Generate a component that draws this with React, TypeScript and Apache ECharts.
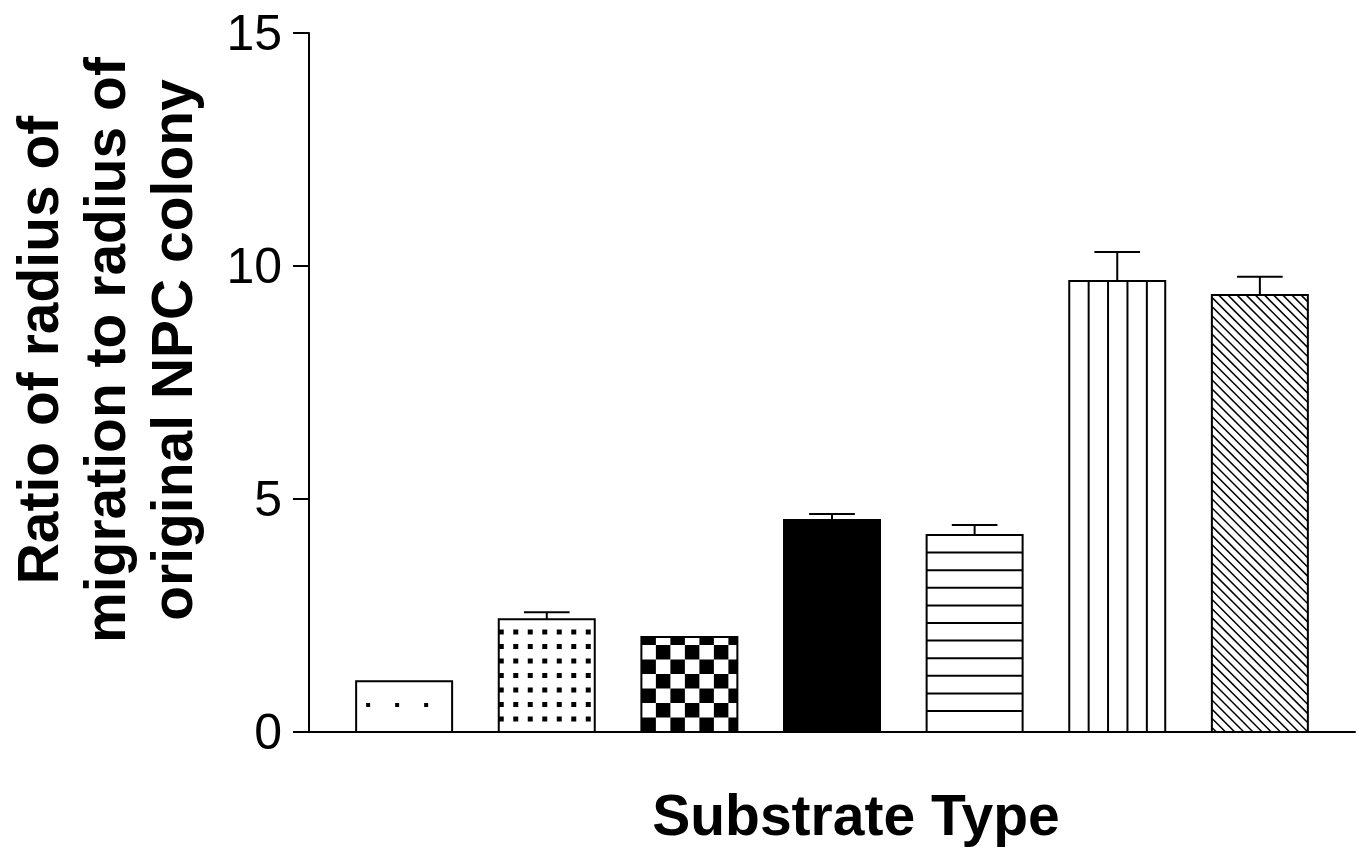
import React, { useEffect, useRef } from "react";
import * as echarts from "echarts";

// ---- data ----
const CATEGORIES = ["S1", "S2", "S3", "S4", "S5", "S6", "S7"];
const VALUES = [1.09, 2.42, 2.04, 4.55, 4.23, 9.68, 9.38];
const ERRORS = [0, 0.15, 0, 0.13, 0.21, 0.62, 0.39];
const PATTERNS = ["sparseDots", "dots", "checker", "solid", "hlines", "vlines", "diag"];
const Y_TICKS = [0, 5, 10, 15];
const X_TITLE = "Substrate Type";
const Y_TITLE = ["Ratio of radius of", "migration to radius of", "original NPC colony"];

// ---- geometry (data units on the value x axis) ----
const BAR_WIDTH = 0.673;
const CAP_WIDTH = 0.32;
const X_MIN = -0.667;
const X_MAX = CATEGORIES.length - 1 + 0.667;

function buildPattern(kind: string, left: number, top: number, right: number, bottom: number) {
  const els: any[] = [];
  const black = { fill: "#000" };
  if (kind === "sparseDots") {
    const s = 29, d = 4;
    for (let cx = left + 12; cx < right - 3; cx += s) {
      for (let cy = bottom - 27; cy > top + 3; cy -= s) {
        els.push({ type: "rect", shape: { x: cx - d / 2, y: cy - d / 2, width: d, height: d }, style: black });
      }
    }
  } else if (kind === "dots") {
    const s = 14.5, d = 5;
    for (let cx = left + 2.5; cx < right + d / 2; cx += s) {
      for (let cy = bottom - 13; cy - d / 2 > top; cy -= s) {
        const x1 = Math.max(left, cx - d / 2);
        const x2 = Math.min(right, cx + d / 2);
        if (x2 > x1) els.push({ type: "rect", shape: { x: x1, y: cy - d / 2, width: x2 - x1, height: d }, style: black });
      }
    }
  } else if (kind === "checker") {
    const s = 14.5;
    for (let r = 0; bottom - r * s > top; r++) {
      const y2 = bottom - r * s;
      const y1 = Math.max(top, y2 - s);
      for (let c = 0; left + c * s < right; c++) {
        if ((r + c) % 2 !== 0) continue;
        const x1 = left + c * s;
        const x2 = Math.min(right, x1 + s);
        els.push({ type: "rect", shape: { x: x1, y: y1, width: x2 - x1, height: y2 - y1 }, style: black });
      }
    }
  } else if (kind === "hlines") {
    for (let y = bottom - 21; y > top + 4; y -= 17.6) {
      els.push({ type: "line", shape: { x1: left, y1: y, x2: right, y2: y }, style: { stroke: "#000", lineWidth: 2 } });
    }
  } else if (kind === "vlines") {
    for (let x = left + 19.4; x < right - 4; x += 19.4) {
      els.push({ type: "line", shape: { x1: x, y1: top, x2: x, y2: bottom }, style: { stroke: "#000", lineWidth: 2 } });
    }
  } else if (kind === "diag") {
    const d = 9.15;
    const cmin = left - bottom;
    const cmax = right - top;
    for (let c = cmin + d / 2; c < cmax; c += d) {
      const x1 = Math.max(left, top + c);
      const x2 = Math.min(right, bottom + c);
      if (x2 > x1) {
        els.push({
          type: "line",
          shape: { x1: x1, y1: x1 - c, x2: x2, y2: x2 - c },
          style: { stroke: "#000", lineWidth: 1.5 },
        });
      }
    }
  }
  return els;
}

export default function App() {
  const ref = useRef<HTMLDivElement>(null);

  useEffect(() => {
    if (!ref.current) return;
    const chart = echarts.init(ref.current, null, { renderer: "svg" });

    const barData = VALUES.map((v, i) => [i, v]);
    const errData = VALUES.map((v, i) => [i, v, ERRORS[i]]);

    const renderBar = (params: any, api: any) => {
      const i = params.dataIndex;
      const x = api.value(0);
      const v = api.value(1);
      const base = api.coord([x, 0]);
      const tp = api.coord([x, v]);
      const w = api.size([BAR_WIDTH, 0])[0];
      const left = base[0] - w / 2;
      const right = base[0] + w / 2;
      const top = tp[1];
      const bottom = base[1];
      const kind = PATTERNS[i];
      const children: any[] = [
        {
          type: "rect",
          shape: { x: left, y: top, width: w, height: bottom - top },
          style: { fill: kind === "solid" ? "#000" : "#fff" },
        },
        ...buildPattern(kind, left, top, right, bottom),
        {
          type: "rect",
          shape: { x: left, y: top, width: w, height: bottom - top },
          style: { fill: "none", stroke: "#000", lineWidth: 2 },
        },
      ];
      return { type: "group", children };
    };

    const renderErr = (params: any, api: any) => {
      const x = api.value(0);
      const v = api.value(1);
      const e = api.value(2);
      if (!(e > 0)) return null;
      const p0 = api.coord([x, v]);
      const p1 = api.coord([x, v + e]);
      const cw = api.size([CAP_WIDTH, 0])[0];
      const st = { stroke: "#000", lineWidth: 2 };
      return {
        type: "group",
        children: [
          { type: "line", shape: { x1: p0[0], y1: p0[1], x2: p1[0], y2: p1[1] }, style: st },
          { type: "line", shape: { x1: p1[0] - cw / 2, y1: p1[1], x2: p1[0] + cw / 2, y2: p1[1] }, style: st },
        ],
      };
    };

    chart.setOption({
      animation: false,
      backgroundColor: "#fff",
      grid: { left: 309, right: 5, top: 33, bottom: 118 },
      xAxis: {
        type: "value",
        min: X_MIN,
        max: X_MAX,
        axisLine: { show: true, onZero: false, lineStyle: { color: "#000", width: 2 } },
        axisTick: { show: false },
        axisLabel: { show: false },
        splitLine: { show: false },
      },
      yAxis: {
        type: "value",
        min: Y_TICKS[0],
        max: Y_TICKS[Y_TICKS.length - 1],
        interval: Y_TICKS[1] - Y_TICKS[0],
        axisLine: { show: true, onZero: false, lineStyle: { color: "#000", width: 2 } },
        axisTick: { show: true, length: 16, lineStyle: { color: "#000", width: 2 } },
        axisLabel: {
          fontSize: 50,
          color: "#000",
          fontFamily: "Liberation Sans",
          margin: 27,
        },
        splitLine: { show: false },
      },
      graphic: [
        {
          type: "text",
          x: 105,
          y: 350,
          rotation: Math.PI / 2,
          style: {
            text: Y_TITLE.join("\n"),
            fontSize: 57,
            fontWeight: "bold",
            fontFamily: "Liberation Sans",
            lineHeight: 67,
            fill: "#000",
            align: "center",
            verticalAlign: "middle",
          },
        },
        {
          type: "text",
          x: 856,
          y: 815,
          style: {
            text: X_TITLE,
            fontSize: 57,
            fontWeight: "bold",
            fontFamily: "Liberation Sans",
            fill: "#000",
            align: "center",
            verticalAlign: "middle",
          },
        },
      ],
      series: [
        {
          type: "custom",
          name: "bars",
          renderItem: renderBar,
          data: barData,
          encode: { x: 0, y: 1 },
          z: 2,
          clip: false,
        },
        {
          type: "custom",
          name: "errors",
          renderItem: renderErr,
          data: errData,
          encode: { x: 0, y: [1, 2] },
          z: 3,
          clip: false,
        },
      ],
    });

    return () => chart.dispose();
  }, []);

  return (
    <div
      ref={ref}
      style={{ position: "absolute", left: 0, top: 0, width: 1360, height: 850, background: "#fff" }}
    />
  );
}
